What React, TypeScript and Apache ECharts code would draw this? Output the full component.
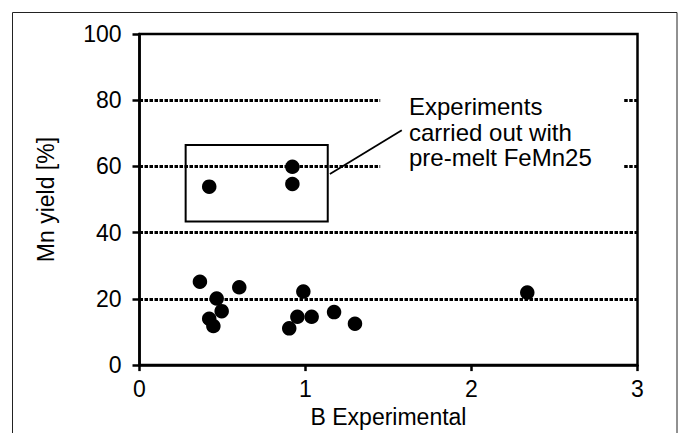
import React, { useEffect, useRef } from "react";
import * as echarts from "echarts";

// B Experimental (x) and Mn yield [%] (y)
const bExperimental = [0.364, 0.601, 0.465, 0.495, 0.42, 0.445, 0.987, 0.951, 1.037, 0.902, 1.172, 1.298, 2.336, 0.42, 0.921, 0.921];
const mnYield = [25.2, 23.5, 20.1, 16.3, 14.0, 11.8, 22.2, 14.6, 14.6, 11.1, 16.0, 12.5, 21.9, 53.9, 59.9, 54.7];

// dashed reference lines: [xStart, xEnd, y]
const gridSegments = [
  [0, 1.45, 80],
  [2.92, 3, 80],
  [0, 1.45, 60],
  [2.92, 3, 60],
  [0, 3, 40],
  [0, 3, 20],
];

// box around pre-melt experiments: [x, y] corners
const boxCorners = [
  [0.278, 66.5],
  [1.134, 43.4],
];
// connector from box to annotation
const connector = [
  [1.147, 57.7],
  [1.58, 70.9],
];
const annotationText = "Experiments\ncarried out with\npre-melt FeMn25";

const FONT = '"Liberation Sans", Arial, Helvetica, sans-serif';

export default function App() {
  const ref = useRef<HTMLDivElement>(null);
  useEffect(() => {
    if (!ref.current) return;
    const chart = echarts.init(ref.current, undefined, { renderer: "svg" });
    const points = bExperimental.map((x, i) => [x, mnYield[i]]);
    chart.setOption({
      animation: false,
      backgroundColor: "#fff",
      textStyle: { fontFamily: FONT },
      grid: {
        left: 139.5,
        right: 45.5,
        top: 34,
        bottom: 67,
        show: true,
        borderColor: "#000",
        borderWidth: 2.5,
        backgroundColor: "transparent",
      },
      xAxis: {
        type: "value",
        min: 0,
        max: 3,
        interval: 1,
        name: "B Experimental",
        nameLocation: "middle",
        nameGap: 39,
        nameTextStyle: { fontSize: 23, color: "#000", fontFamily: FONT },
        axisLine: { show: true, lineStyle: { color: "#000", width: 2.5 } },
        axisTick: { show: true, length: 6, lineStyle: { color: "#000", width: 2.5 } },
        axisLabel: { fontSize: 23, color: "#000", margin: 12, fontFamily: FONT },
        splitLine: { show: false },
      },
      yAxis: {
        type: "value",
        min: 0,
        max: 100,
        interval: 20,
        name: "Mn yield [%]",
        nameLocation: "middle",
        nameGap: 82,
        nameTextStyle: { fontSize: 23, color: "#000", fontFamily: FONT },
        axisLine: { show: true, lineStyle: { color: "#000", width: 2.5 } },
        axisTick: { show: true, length: 7, lineStyle: { color: "#000", width: 2.5 } },
        axisLabel: { fontSize: 23, color: "#000", margin: 18, fontFamily: FONT },
        splitLine: { show: false },
      },
      graphic: [
        {
          type: "rect",
          shape: { x: 12.5, y: 12.5, width: 664.5, height: 460 },
          style: { fill: "none", stroke: "#222", lineWidth: 1 },
          silent: true,
          z: -1,
        },
        {
          type: "text",
          left: 409,
          top: 94,
          style: {
            text: annotationText,
            fontSize: 24,
            fontFamily: FONT,
            fill: "#000",
            lineHeight: 25.5,
          },
          silent: true,
        },
      ],
      series: [
        {
          type: "line",
          data: [],
          z: 1,
          silent: true,
          markLine: {
            silent: true,
            symbol: ["none", "none"],
            label: { show: false },
            lineStyle: { color: "#000", width: 3, type: [3.5, 1.5] },
            data: gridSegments.map(([x0, x1, y]) => [{ coord: [x0, y] }, { coord: [x1, y] }]),
          },
        },
        {
          type: "line",
          data: [],
          z: 2,
          silent: true,
          markLine: {
            silent: true,
            symbol: ["none", "none"],
            label: { show: false },
            lineStyle: { color: "#000", width: 1.8, type: "solid" },
            data: [[{ coord: connector[0] }, { coord: connector[1] }]],
          },
          markArea: {
            silent: true,
            itemStyle: { color: "rgba(0,0,0,0)", borderColor: "#000", borderWidth: 2 },
            label: { show: false },
            data: [[{ coord: boxCorners[0] }, { coord: boxCorners[1] }]],
          },
        },
        {
          type: "scatter",
          z: 3,
          symbol: "circle",
          symbolSize: 14.5,
          itemStyle: { color: "#000", opacity: 1 },
          data: points,
        },
      ],
    });
    return () => chart.dispose();
  }, []);
  return (
    <div
      ref={ref}
      style={{ position: "fixed", left: 0, top: 0, width: 683, height: 433, background: "#fff" }}
    />
  );
}
